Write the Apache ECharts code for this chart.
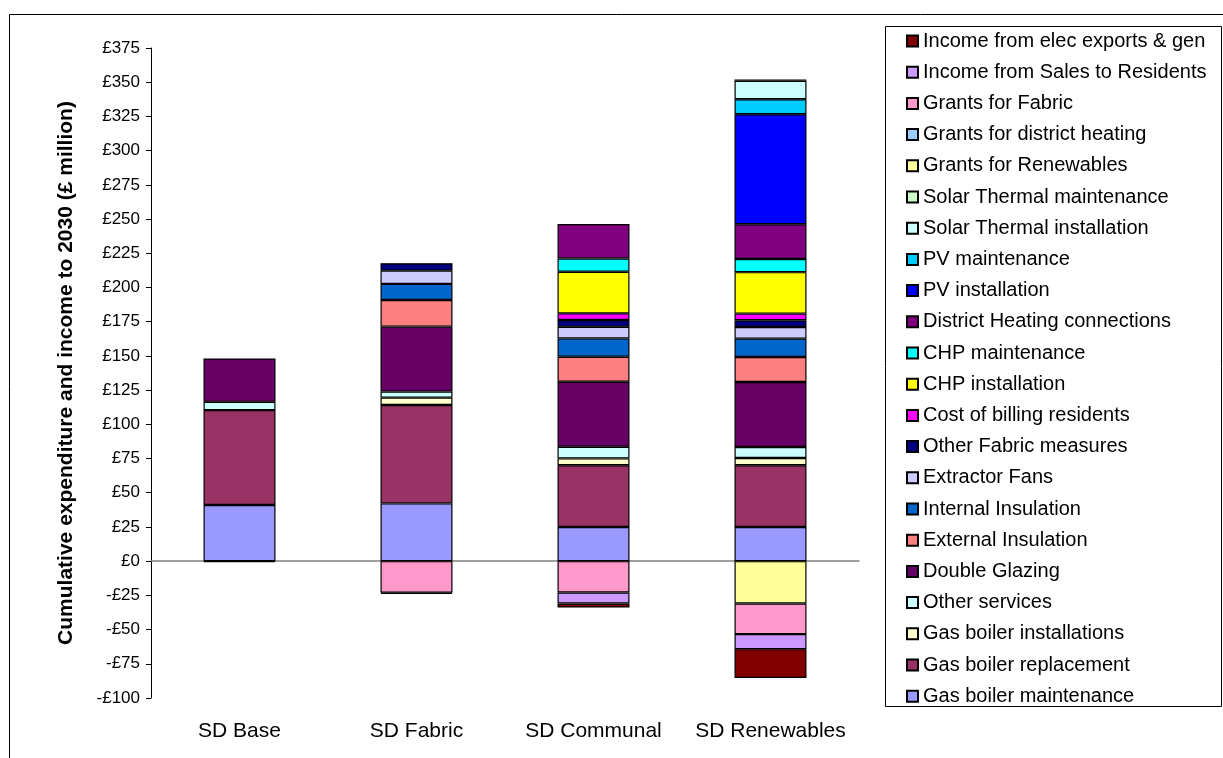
<!DOCTYPE html>
<html>
<head>
<meta charset="utf-8">
<script src="https://cdn.jsdelivr.net/npm/echarts@6/dist/echarts.min.js"></script>
<style>
  html, body { margin: 0; padding: 0; background: #fff; }
  #chart { width: 1223px; height: 758px; }
</style>
</head>
<body>
<div id="chart"></div>
<script>
// Scenarios on the x axis
const categories = ['SD Base', 'SD Fabric', 'SD Communal', 'SD Renewables'];

// Cumulative expenditure (positive) and income/grants (negative), £ million
const gasBoilerMaintenance      = [41.0, 42.2, 25.0, 25.0];
const gasBoilerReplacement      = [69.4, 71.9, 45.1, 45.1];
const gasBoilerInstallations    = [0, 5.4, 5.0, 5.3];
const otherServices             = [6.0, 4.4, 8.5, 8.0];
const doubleGlazing             = [31.7, 47.5, 47.5, 47.5];
const externalInsulation        = [0, 19.5, 18.3, 18.3];
const internalInsulation        = [0, 11.7, 13.4, 13.4];
const extractorFans             = [0, 9.7, 8.5, 8.5];
const otherFabricMeasures       = [0, 5.4, 4.9, 4.9];
const costOfBillingResidents    = [0, 0, 4.9, 4.9];
const chpInstallation           = [0, 0, 30.4, 30.3];
const chpMaintenance            = [0, 0, 9.7, 9.6];
const districtHeatingConnections= [0, 0, 25.1, 25.4];
const pvInstallation            = [0, 0, 0, 80.4];
const pvMaintenance             = [0, 0, 0, 11.0];
const solarThermalInstallation  = [0, 0, 0, 13.4];
const solarThermalMaintenance   = [0, 0, 0, 1.0];
const grantsForRenewables       = [0, 0, 0, -30.9];
const grantsForDistrictHeating  = [0, 0, 0, 0];
const grantsForFabric           = [0, -23.1, -22.9, -22.4];
const incomeFromSales           = [0, 0, -8.0, -11.0];
const incomeFromElecExports     = [-0.8, -0.8, -3.0, -21.0];

// Y axis range and step
const yMin = -100, yMax = 375, yStep = 25;

// Series in stacking order (bottom to top)
const seriesDefs = [
  ['Gas boiler maintenance', gasBoilerMaintenance, '#9999FF'],
  ['Gas boiler replacement', gasBoilerReplacement, '#993366'],
  ['Gas boiler installations', gasBoilerInstallations, '#FFFFCC'],
  ['Other services', otherServices, '#CCFFFF'],
  ['Double Glazing', doubleGlazing, '#660066'],
  ['External Insulation', externalInsulation, '#FF8080'],
  ['Internal Insulation', internalInsulation, '#0066CC'],
  ['Extractor Fans', extractorFans, '#CCCCFF'],
  ['Other Fabric measures', otherFabricMeasures, '#000080'],
  ['Cost of billing residents', costOfBillingResidents, '#FF00FF'],
  ['CHP installation', chpInstallation, '#FFFF00'],
  ['CHP maintenance', chpMaintenance, '#00FFFF'],
  ['District Heating connections', districtHeatingConnections, '#800080'],
  ['PV installation', pvInstallation, '#0000FF'],
  ['PV maintenance', pvMaintenance, '#00CCFF'],
  ['Solar Thermal installation', solarThermalInstallation, '#CCFFFF'],
  ['Solar Thermal maintenance', solarThermalMaintenance, '#CCFFCC'],
  ['Grants for Renewables', grantsForRenewables, '#FFFF99'],
  ['Grants for district heating', grantsForDistrictHeating, '#99CCFF'],
  ['Grants for Fabric', grantsForFabric, '#FF99CC'],
  ['Income from Sales to Residents', incomeFromSales, '#CC99FF'],
  ['Income from elec exports & gen', incomeFromElecExports, '#800000']
];

const FONT = 'Liberation Sans, Arial, sans-serif';

const series = seriesDefs.map(([name, values, color]) => ({
  name: name,
  type: 'bar',
  stack: 'total',
  stackStrategy: 'samesign',
  barWidth: 72,
  xAxisIndex: 0,
  data: values.map(v => (v === 0 ? null : v)),
  itemStyle: { color: color, borderColor: '#000', borderWidth: 1.2 },
  emphasis: { disabled: true },
  animation: false
}));

const chart = echarts.init(document.getElementById('chart'), null, { renderer: 'canvas' });

chart.setOption({
  backgroundColor: '#fff',
  animation: false,
  textStyle: { fontFamily: FONT },
  grid: { left: 151, top: 48, right: 364, bottom: 60, containLabel: false },
  graphic: [
    {
      type: 'rect',
      shape: { x: 9.5, y: 14.5, width: 1300, height: 800 },
      style: { fill: null, stroke: '#000', lineWidth: 1 },
      silent: true, z: -10
    },
    {
      type: 'rect',
      shape: { x: 885.5, y: 26.5, width: 336, height: 680 },
      style: { fill: '#fff', stroke: '#000', lineWidth: 1 },
      silent: true, z: -5
    }
  ],
  legend: {
    orient: 'vertical',
    left: 906,
    top: 31,
    padding: 0,
    itemWidth: 11,
    itemHeight: 11,
    itemGap: 11.2,
    icon: 'rect',
    selectedMode: false,
    data: seriesDefs.map(d => d[0]).reverse(),
    textStyle: { fontFamily: FONT, fontSize: 20, color: '#000', lineHeight: 20 }
  },
  xAxis: [
    {
      type: 'category',
      data: categories,
      position: 'bottom',
      axisLine: { show: true, onZero: true, lineStyle: { color: '#808080', width: 1.5 } },
      axisTick: { show: false },
      axisLabel: { show: false },
      splitLine: { show: false }
    },
    {
      type: 'category',
      data: categories,
      position: 'bottom',
      axisLine: { show: false, onZero: false },
      axisTick: { show: false },
      axisLabel: { show: true, interval: 0, fontFamily: FONT, fontSize: 21, color: '#000', margin: 23 },
      splitLine: { show: false }
    }
  ],
  yAxis: {
    type: 'value',
    min: yMin,
    max: yMax,
    interval: yStep,
    name: 'Cumulative expenditure and income to 2030 (£ million)',
    nameLocation: 'middle',
    nameGap: 74,
    nameTextStyle: { fontFamily: FONT, fontSize: 21, fontWeight: 'bold', color: '#000' },
    axisLine: { show: true, lineStyle: { color: '#000', width: 1 } },
    axisTick: { show: true, inside: false, length: 5, lineStyle: { color: '#000' } },
    axisLabel: {
      fontFamily: FONT, fontSize: 17, color: '#000', margin: 11,
      formatter: v => (v < 0 ? '-£' + Math.abs(v) : '£' + v)
    },
    splitLine: { show: false }
  },
  series: series
});
</script>
</body>
</html>
